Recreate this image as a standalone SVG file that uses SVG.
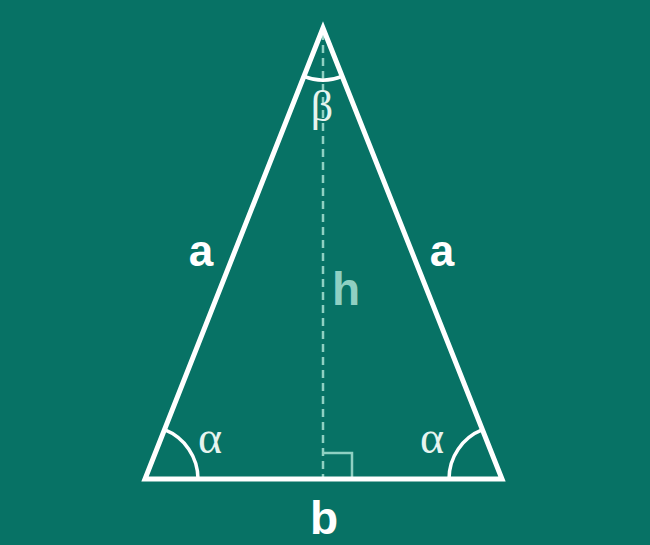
<svg xmlns="http://www.w3.org/2000/svg" width="650" height="545" viewBox="0 0 650 545">
<style>
.edge{fill:none;stroke:#ffffff;stroke-width:5;stroke-linejoin:miter;stroke-miterlimit:20}
.arc{fill:none;stroke:#ffffff;stroke-width:3.5}
.aux{fill:none;stroke:#8fd0c2;stroke-width:2.5}
.lbl{font-family:"Liberation Sans",Arial,sans-serif;font-weight:bold;fill:#ffffff;text-anchor:middle}
.ang{font-family:"Liberation Serif","Times New Roman",serif;fill:#e6f4ef;text-anchor:middle}
</style>
<rect width="650" height="545" fill="#077265"/>
<g id="connectors">
<line class="aux" x1="323" y1="32" x2="323" y2="478" stroke-dasharray="8,5"/>
<path class="aux" d="M323,453 H352 V478"/>
</g>
<g id="triangle">
<polygon class="edge" points="323,28 145,479 502,479"/>
</g>
<g id="angle-beta">
<path class="arc" d="M303.9,76.4 A52,52 0 0 0 342.1,76.4"/>
<text class="ang" x="322" y="121" font-size="44">β</text>
</g>
<g id="angle-alpha-left">
<path class="arc" d="M198,479 A53,53 0 0 0 164.5,429.7"/>
<text class="ang" x="210" y="453" font-size="46">α</text>
</g>
<g id="angle-alpha-right">
<path class="arc" d="M449,479 A53,53 0 0 1 482.5,429.7"/>
<text class="ang" x="432" y="453" font-size="46">α</text>
</g>
<g id="label-a-left"><text class="lbl" x="201" y="266" font-size="44">a</text></g>
<g id="label-a-right"><text class="lbl" x="442" y="266" font-size="44">a</text></g>
<g id="label-h"><text class="lbl" x="346" y="305" font-size="46" style="fill:#8fd0c2">h</text></g>
<g id="label-b"><text class="lbl" x="324" y="534" font-size="46">b</text></g>
</svg>
